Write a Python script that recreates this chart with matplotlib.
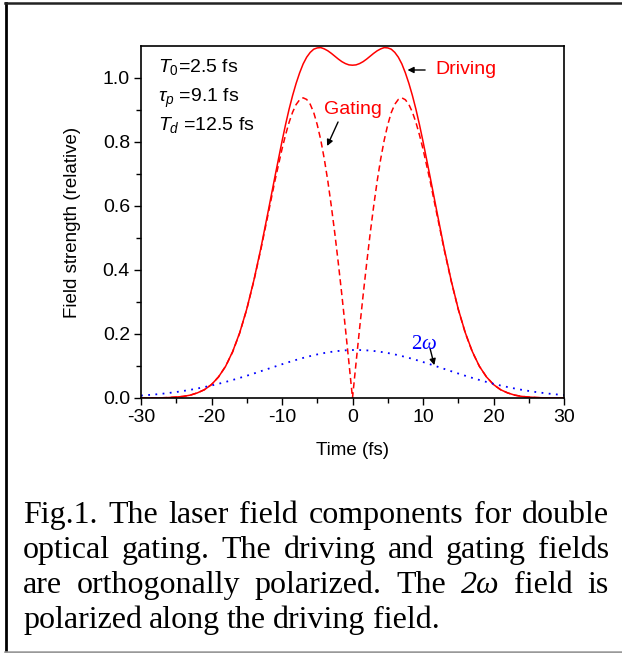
import matplotlib
matplotlib.use('Agg')
import matplotlib.pyplot as plt
from matplotlib.lines import Line2D

plt.rcParams['font.family'] = ['Liberation Sans', 'DejaVu Sans']
plt.rcParams['axes.unicode_minus'] = False
plt.rcParams['mathtext.fontset'] = 'custom'
plt.rcParams['mathtext.rm'] = 'Liberation Sans'
plt.rcParams['mathtext.it'] = 'Liberation Sans:italic'

# time axis for the red curves (fs), finer around the centre
time_red = [-30, -29, -28, -27, -26, -25, -24, -23, -22, -21, -20, -19, -18, -17, -16,
            -15, -14, -13, -12, -11,
            -10, -9.5, -9, -8.5, -8, -7.5, -7, -6.5, -6, -5.5, -5, -4.5, -4, -3.5, -3,
            -2.5, -2, -1.5, -1, -0.5, 0, 0.5, 1, 1.5, 2, 2.5, 3, 3.5, 4, 4.5, 5,
            5.5, 6, 6.5, 7, 7.5, 8, 8.5, 9, 9.5, 10,
            11, 12, 13, 14, 15, 16, 17, 18, 19, 20, 21, 22, 23, 24, 25, 26, 27, 28, 29, 30]

# driving field envelope
driving = [0.0001, 0.0002, 0.0004, 0.0007, 0.0015, 0.003, 0.005, 0.009, 0.016, 0.026,
           0.042, 0.066, 0.099, 0.145, 0.204, 0.278, 0.367, 0.468, 0.579, 0.692,
           0.802, 0.854, 0.902, 0.945, 0.983, 1.016, 1.044, 1.065, 1.080, 1.090,
           1.094, 1.095, 1.091, 1.085, 1.077, 1.068, 1.059, 1.051, 1.045, 1.041,
           1.040,
           1.041, 1.045, 1.051, 1.059, 1.068, 1.077, 1.085, 1.091, 1.095, 1.094,
           1.090, 1.080, 1.065, 1.044, 1.016, 0.983, 0.945, 0.902, 0.854, 0.802,
           0.692, 0.579, 0.468, 0.367, 0.278, 0.204, 0.145, 0.099, 0.066, 0.042,
           0.026, 0.016, 0.009, 0.005, 0.003, 0.0015, 0.0007, 0.0004, 0.0002, 0.0001]

# gating field envelope
gating = [0.0001, 0.0002, 0.0004, 0.0007, 0.0015, 0.003, 0.005, 0.009, 0.016, 0.026,
          0.042, 0.066, 0.099, 0.144, 0.203, 0.277, 0.365, 0.464, 0.571, 0.679,
          0.778, 0.822, 0.861, 0.893, 0.917, 0.932, 0.938, 0.933, 0.918, 0.892,
          0.854, 0.806, 0.747, 0.678, 0.599, 0.513, 0.419, 0.320, 0.216, 0.109,
          0.0,
          0.109, 0.216, 0.320, 0.419, 0.513, 0.599, 0.678, 0.747, 0.806, 0.854,
          0.892, 0.918, 0.933, 0.938, 0.932, 0.917, 0.893, 0.861, 0.822, 0.778,
          0.679, 0.571, 0.464, 0.365, 0.277, 0.203, 0.144, 0.099, 0.066, 0.042,
          0.026, 0.016, 0.009, 0.005, 0.003, 0.0015, 0.0007, 0.0004, 0.0002, 0.0001]

# time axis for the 2w curve (fs)
time_fs = list(range(-30, 31))

# second harmonic (2w) field envelope
second_harm = [0.0077, 0.0093, 0.0111, 0.0133, 0.0159, 0.0187, 0.0220, 0.0256, 0.0297, 0.0342,
               0.0391, 0.0444, 0.0502, 0.0563, 0.0628, 0.0695, 0.0765, 0.0837, 0.0910, 0.0982,
               0.1054, 0.1124, 0.1190, 0.1253, 0.1310, 0.1362, 0.1406, 0.1442, 0.1470, 0.1489,
               0.1499,
               0.1499, 0.1489, 0.1470, 0.1442, 0.1406, 0.1362, 0.1310, 0.1253, 0.1190, 0.1124,
               0.1054, 0.0982, 0.0910, 0.0837, 0.0765, 0.0695, 0.0628, 0.0563, 0.0502, 0.0444,
               0.0391, 0.0342, 0.0297, 0.0256, 0.0220, 0.0187, 0.0159, 0.0133, 0.0111, 0.0093]

params = [r'$T_{0}$=2.5 fs', r'$\tau_{p}$ =9.1 fs', r'$T_{d}$ =12.5 fs']

caption = [
    ['Fig.1.', 'The', 'laser', 'field', 'components', 'for', 'double'],
    ['optical', 'gating.', 'The', 'driving', 'and', 'gating', 'fields'],
    ['are', 'orthogonally', 'polarized.', 'The', '2\u03c9', 'field', 'is'],
    ['polarized', 'along', 'the', 'driving', 'field.'],
]

W, H = 622, 653
fig = plt.figure(figsize=(W / 100, H / 100), dpi=100)
ax = fig.add_axes([141 / W, 1 - 398 / H, 423 / W, 352 / H])

ax.plot(time_red, driving, color='#ff0000', lw=1.1)
ax.plot(time_red, gating, color='#ff0000', lw=1.1, linestyle=(0, (4, 2.5)))
ax.plot(time_fs, second_harm, color='#0000ff', lw=1.3, linestyle=(0, (1, 3)))

ax.set_xlim(-30, 30)
ax.set_ylim(0, 1.1)
ax.set_xticks(range(-30, 31, 10))
ax.set_xticks(range(-25, 30, 10), minor=True)
ax.set_yticks([0.0, 0.2, 0.4, 0.6, 0.8, 1.0])
ax.set_yticks([0.1, 0.3, 0.5, 0.7, 0.9], minor=True)
ax.set_yticklabels(['0.0', '0.2', '0.4', '0.6', '0.8', '1.0'])
ax.tick_params(which='both', direction='out', top=False, right=False, width=1, labelsize=14)
ax.tick_params(which='major', length=5, pad=3)
ax.tick_params(which='minor', length=3.5)
for s in ax.spines.values():
    s.set_linewidth(1.2)

ax.set_xlabel('Time (fs)', fontsize=13.5)
ax.set_ylabel('Field strength (relative)', fontsize=13.5)
ax.xaxis.set_label_coords(0.5, -0.148)
ax.xaxis.label.set_va('center')
ax.yaxis.set_label_coords(-0.163, 0.5)
ax.yaxis.label.set_va('center')

for txt, yb in zip(params, [0.926, 0.841, 0.761]):
    ax.text(0.04, yb, txt, transform=ax.transAxes, fontsize=14, va='baseline')

arrow = dict(arrowstyle='-|>', color='black', lw=1, mutation_scale=9, shrinkA=0, shrinkB=0)
ax.annotate('', xy=(7.8, 1.025), xytext=(10.3, 1.025), arrowprops=arrow)
ax.text(11.7, 1.028, 'Driving', color='#ff0000', fontsize=14, va='center')
ax.annotate('', xy=(-3.6, 0.7875), xytext=(-2.05, 0.8625), arrowprops=arrow)
ax.text(0.0, 0.90, 'Gating', color='#ff0000', fontsize=14, va='center', ha='center')
ax.annotate('', xy=(11.6, 0.1025), xytext=(11.0, 0.155), arrowprops=arrow)
# "2" upright, omega italic
ax.text(9.8, 0.166, '2', color='#0000ff', fontsize=15, va='center', ha='right',
        family='Liberation Serif')
ax.text(9.8, 0.166, '\u03c9', color='#0000ff', fontsize=15, va='center', ha='left',
        family='Liberation Serif', style='italic')

# frame lines around the figure
fig.add_artist(Line2D([6 / W, 6 / W], [1 - 3 / H, 1 - 651 / H], color='black', lw=2))
fig.add_artist(Line2D([5 / W, 1], [1 - 3 / H, 1 - 3 / H], color='#222222', lw=1.8))
fig.add_artist(Line2D([5 / W, 1], [1 - 651.5 / H, 1 - 651.5 / H], color='#999999', lw=1.8))

# justified caption, word by word
renderer = fig.canvas.get_renderer()
x0, x1 = 23, 609
baselines = [523, 558, 593, 628]
for i, (words, yb) in enumerate(zip(caption, baselines)):
    texts = []
    for w in words:
        st = 'italic' if w == '2\u03c9' else 'normal'
        texts.append(fig.text(0, 0, w, family='Liberation Serif', fontsize=23,
                              style=st, va='baseline'))
    widths = [t.get_window_extent(renderer).width for t in texts]
    if i < len(caption) - 1:
        gap = (x1 - x0 - sum(widths)) / (len(words) - 1)
    else:
        gap = 7
    x = x0
    for t, w in zip(texts, widths):
        t.set_position((x / W, 1 - yb / H))
        x += w + gap

fig.savefig('out.png', dpi=100)
